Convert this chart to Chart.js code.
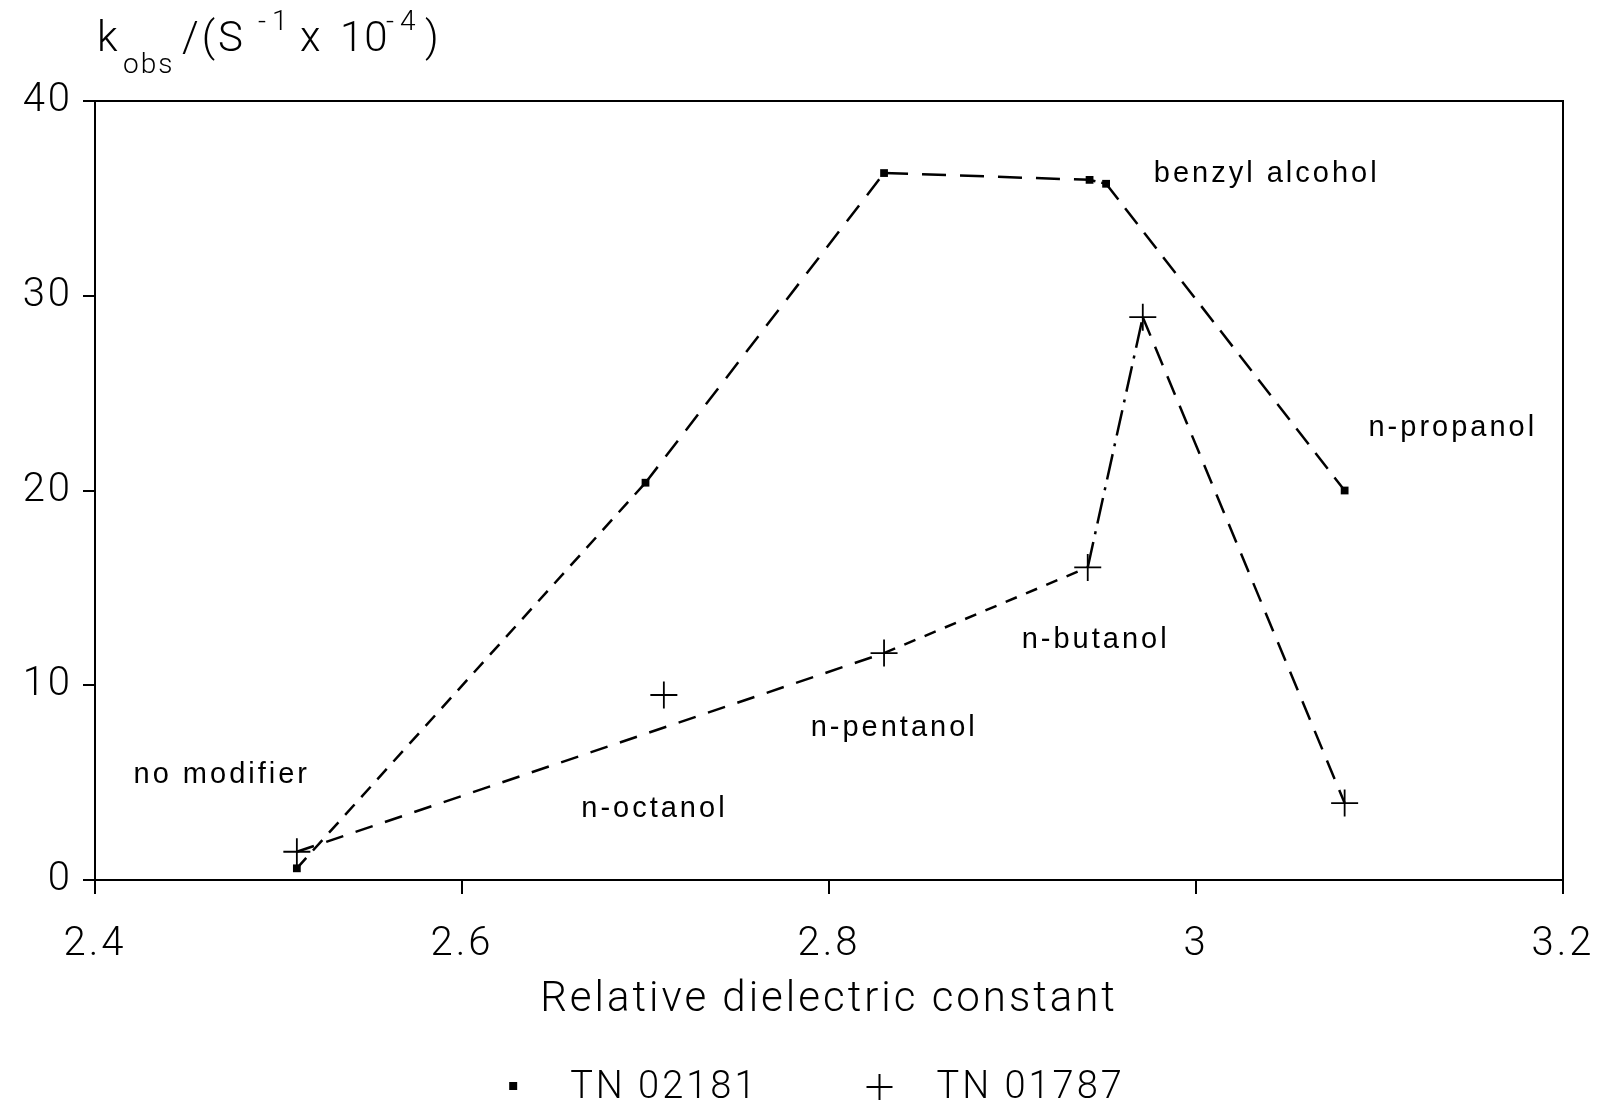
<!DOCTYPE html>
<html>
<head>
<meta charset="utf-8">
<script src="https://cdn.jsdelivr.net/npm/chart.js@4.4.1/dist/chart.umd.min.js"></script>
<style>
  html, body { margin: 0; padding: 0; background: #fff; }
</style>
</head>
<body>
<canvas id="rateChart" width="1600" height="1104"></canvas>
<script>
// -- rate constant against relative dielectric constant of the modifier
var dielectric02181 = [2.51, 2.70, 2.83, 2.942, 2.951, 3.081];
var kobs02181 = [0.6, 20.4, 36.3, 35.95, 35.75, 20.0];
var dielectric01787 = [2.51, 2.71, 2.83, 2.941, 2.971, 3.081];
var kobs01787 = [1.45, 9.5, 11.65, 16.05, 28.9, 3.95];
// the n-octanol point of TN 01787 is left off its dashed line
var joined01787 = [true, false, true, true, true, true];

var seriesNames = ["TN 02181", "TN 01787"];
var xTicks = [2.4, 2.6, 2.8, 3.0, 3.2];
var xTickLabels = ["2.4", "2.6", "2.8", "3", "3.2"];
var yTicks = [0, 10, 20, 30, 40];
var yTickLabels = ["0", "10", "20", "30", "40"];

var modifiers = ["benzyl alcohol", "n-propanol", "n-butanol", "n-pentanol", "no modifier", "n-octanol"];
var modifierX = [2.977, 3.094, 2.905, 2.790, 2.421, 2.665];
var modifierY = [36.25, 23.2, 12.3, 7.8, 5.4, 3.65];

// dash pattern of each line segment
var dash02181 = [[14, 10], [20, 13], [24, 14], [6, 6], [20, 11]];
var dash01787 = [[18, 13], [12, 10], [26, 8, 3, 8], [20, 12]];

function pairs(xs, ys) {
  return xs.map(function (x, i) { return { x: x, y: ys[i] }; });
}

var line01787 = pairs(
  dielectric01787.filter(function (v, i) { return joined01787[i]; }),
  kobs01787.filter(function (v, i) { return joined01787[i]; })
);

function markerImage(kind) {
  var c = document.createElement('canvas');
  c.width = 30; c.height = 30;
  var g = c.getContext('2d');
  g.fillStyle = '#000'; g.strokeStyle = '#000'; g.lineWidth = 2;
  if (kind === 'rect') {
    g.fillRect(11, 9, 8, 8);
  } else {
    g.beginPath();
    g.moveTo(2, 14); g.lineTo(28, 14);
    g.moveTo(15, 1); g.lineTo(15, 27);
    g.stroke();
  }
  return c;
}
var legendMarks = [markerImage('rect'), markerImage('cross')];

var spacing = {
  id: 'spacing',
  beforeUpdate: function (chart) { chart.ctx.letterSpacing = '3px'; },
  beforeDraw: function (chart) { chart.ctx.letterSpacing = '3px'; }
};

var frame = {
  id: 'frame',
  afterDraw: function (chart) {
    var a = chart.chartArea, c = chart.ctx;
    c.save();
    c.strokeStyle = '#000';
    c.lineWidth = 2;
    c.strokeRect(a.left, a.top, a.right - a.left, a.bottom - a.top);
    c.restore();
  }
};

// modifier names next to the points
var modifierLabels = {
  id: 'modifierLabels',
  afterDatasetsDraw: function (chart) {
    var c = chart.ctx, sx = chart.scales.x, sy = chart.scales.y;
    c.save();
    c.fillStyle = '#000';
    c.font = '29px "Liberation Sans", Arial, sans-serif';
    c.letterSpacing = '3px';
    c.textAlign = 'left';
    c.textBaseline = 'middle';
    modifiers.forEach(function (name, i) {
      c.fillText(name, sx.getPixelForValue(modifierX[i]), sy.getPixelForValue(modifierY[i]));
    });
    c.restore();
  }
};

// k_obs /(S^-1 x 10^-4) written above the y axis
var yTitle = {
  id: 'yTitle',
  afterDraw: function (chart) {
    var c = chart.ctx;
    var parts = [
      { text: 'k', x: 97, base: 51, size: 42, gap: 2 },
      { text: 'obs', x: 123, base: 73, size: 28, gap: 2 },
      { text: '/(S', x: 182, base: 51, size: 42, gap: 3 },
      { text: '-1', x: 258, base: 30, size: 28, gap: 6 },
      { text: 'x', x: 300, base: 51, size: 42, gap: 2 },
      { text: '10', x: 340, base: 51, size: 42, gap: 1 },
      { text: '-4', x: 386, base: 30, size: 28, gap: 6 },
      { text: ')', x: 425, base: 51, size: 42, gap: 2 }
    ];
    c.save();
    c.fillStyle = '#000';
    c.textAlign = 'left';
    c.textBaseline = 'alphabetic';
    parts.forEach(function (p) {
      c.font = '300 ' + p.size + 'px Roboto, "Liberation Sans", sans-serif';
      c.letterSpacing = p.gap + 'px';
      c.fillText(p.text, p.x, p.base);
    });
    c.restore();
  }
};

Chart.defaults.color = '#000';
Chart.defaults.font.family = 'Roboto, "Liberation Sans", sans-serif';
Chart.defaults.font.weight = 300;

var ctx = document.getElementById('rateChart');
var rateChart = new Chart(ctx, {
  type: 'scatter',
  data: {
    datasets: [{
      label: seriesNames[0],
      data: pairs(dielectric02181, kobs02181),
      showLine: true,
      borderColor: '#000',
      backgroundColor: '#000',
      borderWidth: 2.5,
      pointStyle: 'rect',
      pointRadius: 5.5,
      pointBorderWidth: 0,
      segment: { borderDash: function (s) { return dash02181[s.p0DataIndex]; } }
    }, {
      label: seriesNames[1],
      data: pairs(dielectric01787, kobs01787),
      showLine: false,
      borderColor: '#000',
      backgroundColor: '#000',
      pointStyle: 'cross',
      pointRadius: 13.5,
      pointBorderWidth: 1.8
    }, {
      label: seriesNames[1] + ' line',
      data: line01787,
      showLine: true,
      borderColor: '#000',
      borderWidth: 2.5,
      pointRadius: 0,
      segment: { borderDash: function (s) { return dash01787[s.p0DataIndex]; } }
    }]
  },
  options: {
    responsive: false,
    animation: false,
    devicePixelRatio: 1,
    layout: { padding: { left: 0, right: 0, top: 101, bottom: 0 } },
    plugins: {
      tooltip: { enabled: false },
      legend: {
        position: 'bottom',
        maxHeight: 118,
        labels: {
          usePointStyle: true,
          pointStyleWidth: 76,
          padding: 83,
          font: { size: 38 },
          filter: function (item) { return item.datasetIndex < 2; },
          generateLabels: function (chart) {
            var items = Chart.defaults.plugins.legend.labels.generateLabels(chart);
            items.forEach(function (item) {
              if (item.datasetIndex < 2) item.pointStyle = legendMarks[item.datasetIndex];
            });
            return items;
          }
        }
      }
    },
    scales: {
      x: {
        type: 'linear',
        min: 2.4,
        max: 3.2,
        afterBuildTicks: function (s) { s.ticks = xTicks.map(function (v) { return { value: v }; }); },
        afterFit: function (s) {
          s.height = 106;
          s.paddingLeft = 0;
          s.paddingRight = 37;
        },
        ticks: {
          callback: function (v, i) { return xTickLabels[i]; },
          font: { size: 40 },
          padding: 27,
          maxRotation: 0,
          autoSkip: false
        },
        grid: { drawOnChartArea: false, drawTicks: true, tickLength: 14, color: '#000', lineWidth: 2 },
        border: { display: true, color: '#000', width: 2 },
        title: {
          display: true,
          text: 'Relative dielectric constant',
          font: { size: 42 },
          padding: { top: 0, bottom: -40 }
        }
      },
      y: {
        type: 'linear',
        min: 0,
        max: 40,
        afterBuildTicks: function (s) { s.ticks = yTicks.map(function (v) { return { value: v }; }); },
        afterFit: function (s) { s.width = 95; },
        ticks: {
          callback: function (v, i) { return yTickLabels[i]; },
          font: { size: 40 },
          padding: 10
        },
        grid: { drawOnChartArea: false, drawTicks: true, tickLength: 12, color: '#000', lineWidth: 2 },
        border: { display: true, color: '#000', width: 2 }
      }
    }
  },
  plugins: [spacing, frame, modifierLabels, yTitle]
});
</script>
</body>
</html>
